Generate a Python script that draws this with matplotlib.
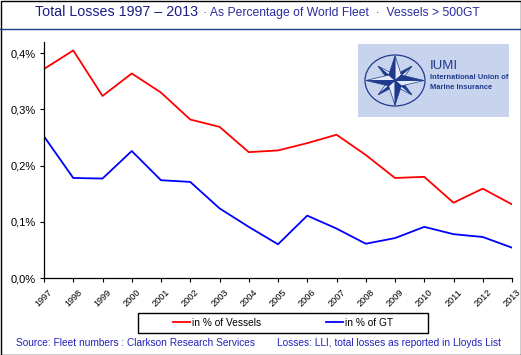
import numpy as np
import matplotlib
matplotlib.use("Agg")
import matplotlib.pyplot as plt
from matplotlib.patches import Rectangle, Ellipse, Polygon
from matplotlib.lines import Line2D
from matplotlib.ticker import FuncFormatter

plt.rcParams['font.family'] = ['Liberation Sans', 'DejaVu Sans']

years = [str(y) for y in range(1997, 2014)]
vessels_pct = [0.372, 0.405, 0.324, 0.364, 0.330, 0.282, 0.269, 0.224, 0.227, 0.240,
               0.255, 0.219, 0.178, 0.180, 0.134, 0.159, 0.131]
gt_pct = [0.252, 0.178, 0.177, 0.226, 0.174, 0.171, 0.124, 0.091, 0.060, 0.111,
          0.088, 0.061, 0.071, 0.091, 0.078, 0.073, 0.054]
series_labels = ["in % of Vessels", "in % of GT"]
y_ticks = [0.0, 0.1, 0.2, 0.3, 0.4]

W, H = 521, 355
fig = plt.figure(figsize=(W / 100, H / 100), dpi=100)
fig.patch.set_facecolor('white')

def fx(px):
    return px / W

def fy(py):
    return 1 - py / H

ax = fig.add_axes([fx(44), fy(278), fx(512) - fx(44), fy(42) - fy(278)])
x = np.arange(len(years))
ax.plot(x, vessels_pct, color='#ff0000', lw=1.3, label=series_labels[0])
ax.plot(x, gt_pct, color='#0000ff', lw=1.3, label=series_labels[1])
ax.set_xlim(0, len(years) - 1)
ax.set_ylim(0, 0.42)
ax.set_yticks(y_ticks)
ax.yaxis.set_major_formatter(FuncFormatter(lambda v, p: f"{v:.1f}%".replace('.', ',')))
ax.set_xticks(x)
ax.set_xticklabels(years, rotation=45, ha='center', va='top', fontsize=6.6)
ax.tick_params(axis='y', labelsize=8, length=3, width=0.8, pad=3)
ax.tick_params(axis='x', length=3, width=0.8, pad=4)
for s in ['top', 'right']:
    ax.spines[s].set_visible(False)
for s in ['left', 'bottom']:
    ax.spines[s].set_linewidth(0.9)

# Title
fig.text(fx(35), fy(16), "Total Losses 1997 \u2013 2013", fontsize=10.3, color='#1c1c86',
         va='baseline', ha='left')
fig.text(fx(203), fy(16), "\u00b7 As Percentage of World Fleet  \u00b7  Vessels > 500GT",
         fontsize=8.7, color='#2c2ca0', va='baseline', ha='left')
fig.add_artist(Line2D([0, 1], [fy(29), fy(29)], color='#1a3c8c', lw=1.0,
                      transform=fig.transFigure))

# Figure border
fig.add_artist(Rectangle((0.5 / W, 0.5 / H), 1 - 1 / W, 1 - 1 / H, fill=False,
                         edgecolor='black', lw=1.0, transform=fig.transFigure))

# Logo
lax = fig.add_axes([fx(358), fy(117), fx(509) - fx(358), fy(44) - fy(117)])
lax.set_facecolor('#c8d4ee')
lax.set_xlim(0, 151)
lax.set_ylim(0, 73)
lax.set_xticks([])
lax.set_yticks([])
for s in lax.spines.values():
    s.set_visible(False)
cx, cy, rx, ry = 37, 36.5, 30, 25.5
navy = '#1f3a8c'
lax.add_patch(Ellipse((cx, cy), 2 * rx, 2 * ry, fill=False, edgecolor=navy, lw=0.9))


def pt(r, a):
    return (cx + rx * r * np.cos(a), cy + ry * r * np.sin(a))


for k in range(8):
    th = np.pi / 2 - k * np.pi / 4
    main = (k % 2 == 0)
    L = 0.97 if main else 0.80
    w = 0.30 if main else 0.22
    z = 3 if main else 2
    tip = pt(L, th)
    p1 = pt(w, th + np.pi / 4)
    p2 = pt(w, th - np.pi / 4)
    lax.add_patch(Polygon([(cx, cy), tip, p2], closed=True, facecolor='#e4eaf8',
                          edgecolor=navy, lw=0.5, zorder=z))
    lax.add_patch(Polygon([(cx, cy), tip, p1], closed=True, facecolor=navy,
                          edgecolor=navy, lw=0.5, zorder=z))
fig.text(fx(430), fy(69), "IUMI", fontsize=9.5, color=navy, ha='left', va='baseline')
fig.text(fx(430), fy(79), "International Union of", fontsize=5.4, color=navy, ha='left',
         va='baseline', fontweight='bold')
fig.text(fx(430), fy(89), "Marine Insurance", fontsize=5.4, color=navy, ha='left',
         va='baseline', fontweight='bold')

# Legend
fig.add_artist(Rectangle((fx(138), fy(333)), fx(428) - fx(138), fy(313) - fy(333),
                         fill=False, edgecolor='black', lw=1.0, transform=fig.transFigure))
fig.legend(loc='center', bbox_to_anchor=(fx(283), fy(323)), ncol=2, frameon=False,
           fontsize=7.3, handlelength=1.7, handletextpad=0.2, columnspacing=6.3,
           borderpad=0, borderaxespad=0)

# Footer
fig.text(fx(16), fy(346), "Source: Fleet numbers : Clarkson Research Services", fontsize=7.3,
         color='#2222bb', ha='left', va='baseline')
fig.text(fx(277), fy(346), "Losses: LLI, total losses as reported in Lloyds List", fontsize=7.3,
         color='#2222bb', ha='left', va='baseline')

fig.savefig('out.png', dpi=100)
